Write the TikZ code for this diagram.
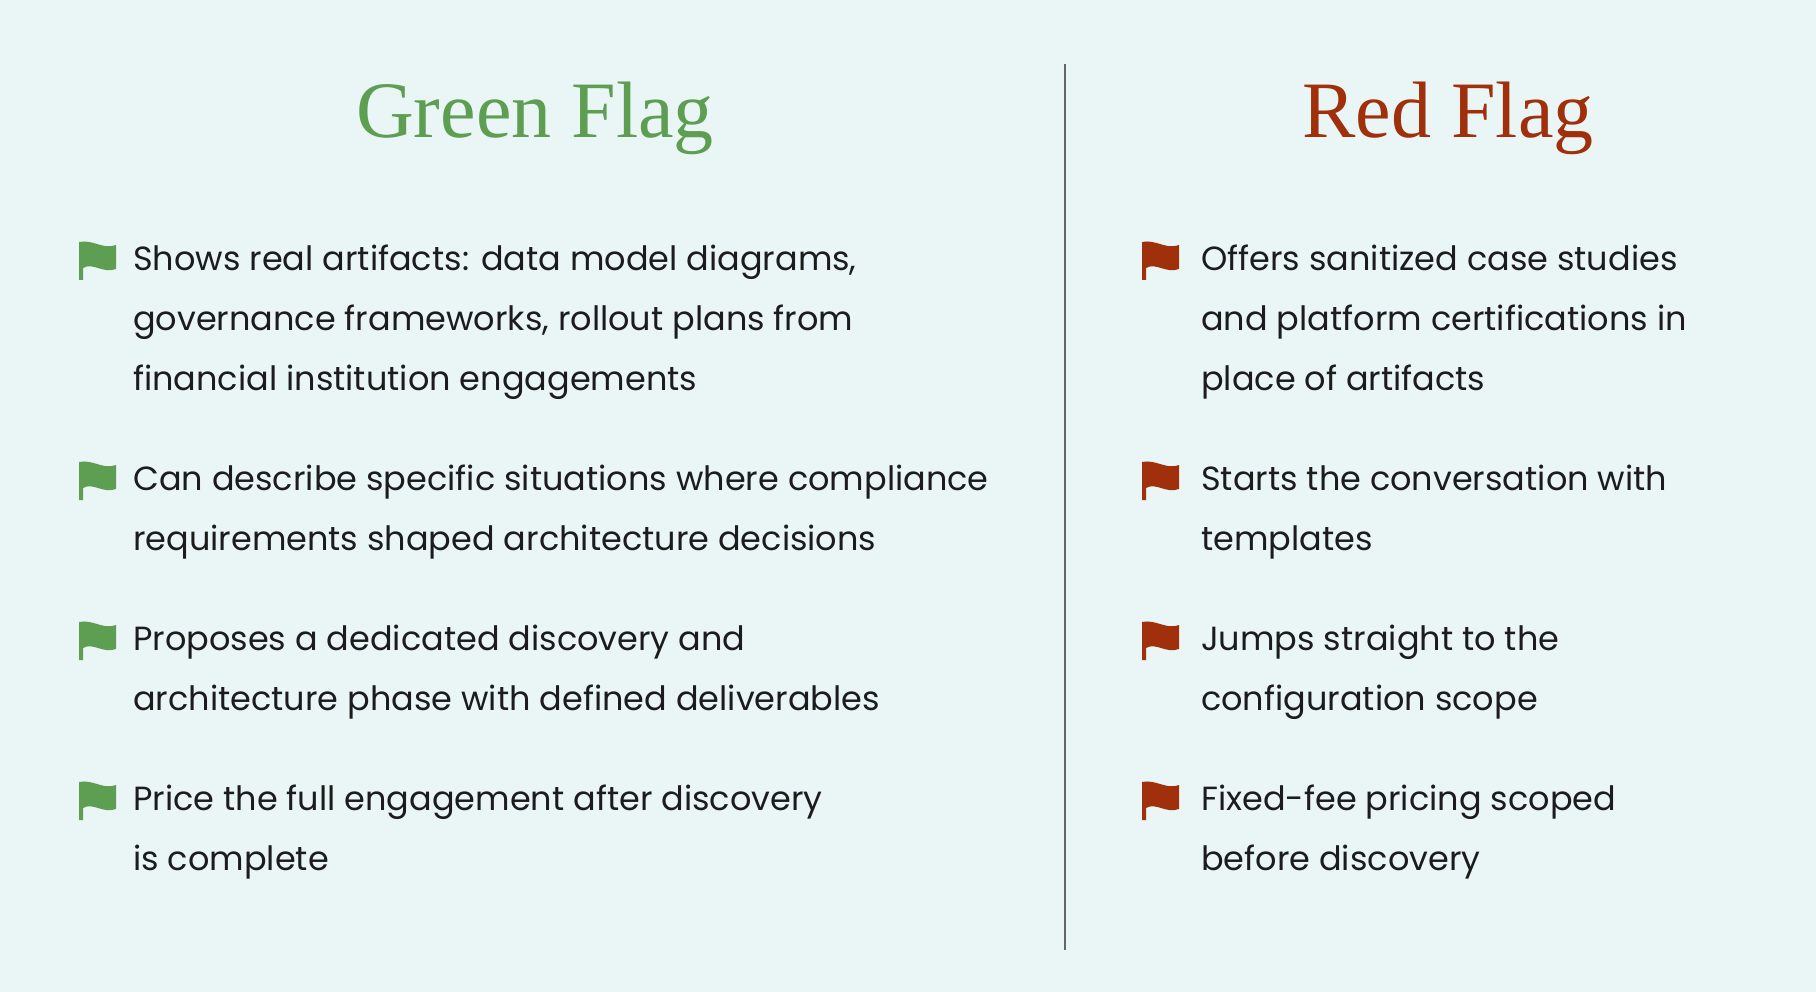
\documentclass[tikz,border=0pt]{standalone}
\usepackage{fontspec}
\newfontfamily\titlefont{Liberation Serif}
\newfontfamily\bodyfont{Poppins}
\definecolor{bgcol}{HTML}{EAF6F6}
\definecolor{goodcol}{HTML}{5E9E52}
\definecolor{badcol}{HTML}{A0300C}
\definecolor{inkcol}{HTML}{1C1C1C}
\tikzset{
  title/.style={font=\titlefont\fontsize{80}{80}\selectfont},
  item/.style={anchor=north west, align=left, text=inkcol, inner sep=0pt,
    font=\bodyfont\fontsize{33.5}{60}\selectfont},
  flagicon/.pic={
    \fill[pic actions] (0,0) -- (0,38) -- (4,38) -- (4,26)
      .. controls (14,20) and (24,32) .. (37,27) -- (37,3)
      .. controls (24,8) and (14,-3) .. (0,0) -- cycle;
  }
}
\begin{document}
\begin{tikzpicture}[x=1pt,y=-1pt]
  \fill[bgcol] (0,0) rectangle (1816,992);
  \useasboundingbox (0,0) rectangle (1816,992);
  \node[title,text=goodcol] (gtitle) at (535,118) {Green Flag};
  \node[title,text=badcol] (rtitle) at (1448,118) {Red Flag};
  \draw[gray!80!black,line width=1.2] (1065,64) -- (1065,950);
  % green side
  \foreach \y/\txt [count=\i] in {
      271/{Shows real artifacts: data model diagrams,\\governance frameworks, rollout plans from\\financial institution engagements},
      491/{Can describe specific situations where compliance\\requirements shaped architecture decisions},
      651/{Proposes a dedicated discovery and\\architecture phase with defined deliverables},
      811/{Price the full engagement after discovery\\is complete}}{
    \pic[goodcol] (gflag\i) at (79,\y-29) {flagicon};
    \node[item] (gitem\i) at (133,\y-26) {\txt};
  }
  % red side
  \foreach \y/\txt [count=\i] in {
      271/{Offers sanitized case studies\\and platform certifications in\\place of artifacts},
      491/{Starts the conversation with\\templates},
      651/{Jumps straight to the\\configuration scope},
      811/{Fixed-fee pricing scoped\\before discovery}}{
    \pic[badcol] (rflag\i) at (1142,\y-29) {flagicon};
    \node[item] (ritem\i) at (1201,\y-26) {\txt};
  }
\end{tikzpicture}
\end{document}
